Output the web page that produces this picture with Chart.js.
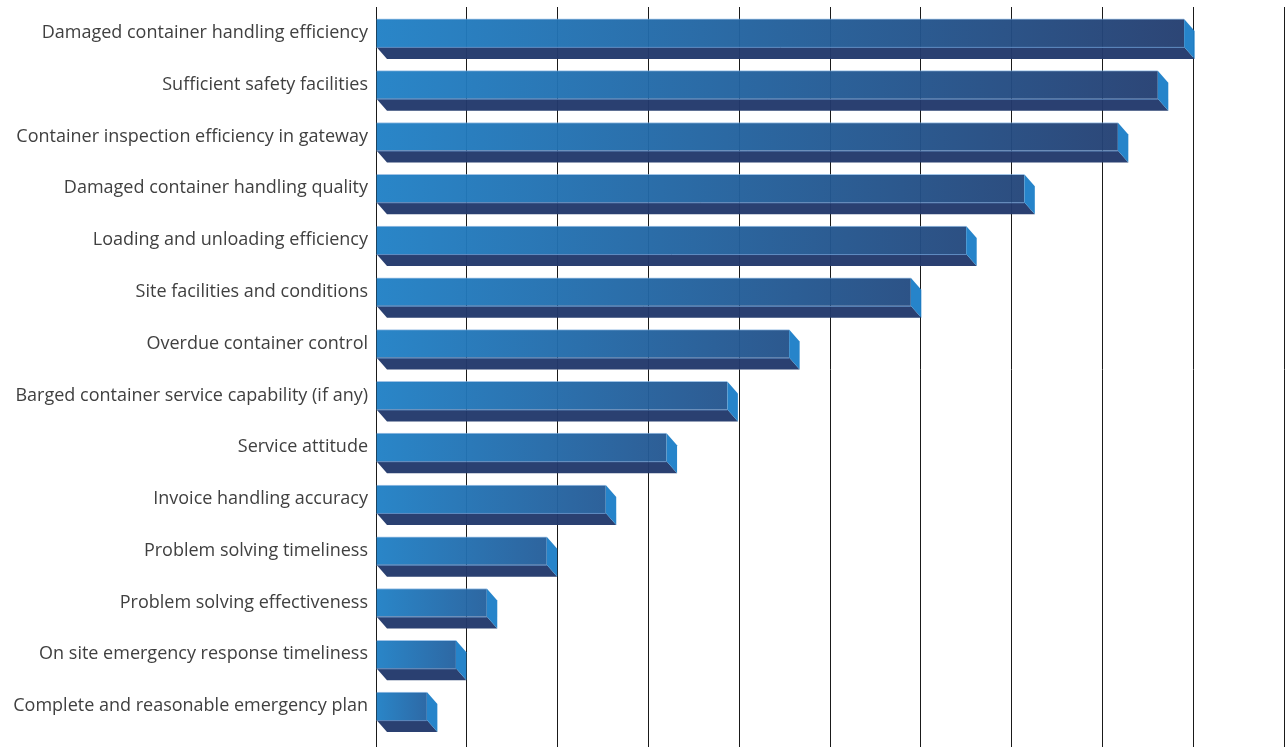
<!DOCTYPE html>
<html>
<head>
<meta charset="utf-8">
<title>Service evaluation</title>
<script src="https://cdn.jsdelivr.net/npm/chart.js@4.4.1/dist/chart.umd.min.js"></script>
<style>
    html, body { margin: 0; padding: 0; background: #ffffff; }
    #wrap { width: 1286px; height: 747px; }
</style>
</head>
<body>
<div id="wrap"><canvas id="chart" width="1286" height="747"></canvas></div>
<script>
// chart data
const categories = [
    "Damaged container handling efficiency",
    "Sufficient safety facilities",
    "Container inspection efficiency in gateway",
    "Damaged container handling quality",
    "Loading and unloading efficiency",
    "Site facilities and conditions",
    "Overdue container control",
    "Barged container service capability (if any)",
    "Service attitude",
    "Invoice handling accuracy",
    "Problem solving timeliness",
    "Problem solving effectiveness",
    "On site emergency response timeliness",
    "Complete and reasonable emergency plan"
];
const scores = [8.90, 8.61, 8.17, 7.14, 6.50, 5.89, 4.55, 3.87, 3.20, 2.53, 1.88, 1.22, 0.88, 0.56];
const axisMin = 0;
const axisMax = 10;
const axisStep = 1;

// 3d look
const DEPTH_X = 10.5;
const DEPTH_Y = 12;

function mix(a, b, t, alpha) {
    const pa = a.match(/\w\w/g).map((h) => parseInt(h, 16));
    const pb = b.match(/\w\w/g).map((h) => parseInt(h, 16));
    return "rgba(" + pa.map((v, i) => Math.round(v + (pb[i] - v) * t)).join(",") + "," + alpha + ")";
}

// front face: light on the left, darker the longer the bar
function frontFill(context) {
    if (context.type !== "data") return "#2277bb";
    const xScale = context.chart.scales.x;
    const x0 = xScale.getPixelForValue(0);
    const x1 = xScale.getPixelForValue(context.raw);
    if (!isFinite(x0) || !isFinite(x1) || x1 <= x0) return "#2277bb";
    const g = context.chart.ctx.createLinearGradient(x0, 0, x1, 0);
    g.addColorStop(0, "rgba(33,129,198,0.96)");
    g.addColorStop(1, mix("2566a5", "243e70", context.raw / Math.max(...scores), 0.96));
    return g;
}

const bar3d = {
    id: "bar3d",
    afterDatasetsDraw(chart) {
        const ctx = chart.ctx;
        const meta = chart.getDatasetMeta(0);
        ctx.save();
        meta.data.forEach((bar) => {
            const p = bar.getProps(["x", "y", "base", "height"], true);
            const top = p.y - p.height / 2;
            const bottom = p.y + p.height / 2;
            // bottom face
            ctx.fillStyle = "rgba(35,58,108,0.97)";
            ctx.beginPath();
            ctx.moveTo(p.base, bottom);
            ctx.lineTo(p.x, bottom);
            ctx.lineTo(p.x + DEPTH_X, bottom + DEPTH_Y);
            ctx.lineTo(p.base + DEPTH_X, bottom + DEPTH_Y);
            ctx.closePath();
            ctx.fill();
            // right side face
            ctx.fillStyle = "rgba(31,128,200,0.97)";
            ctx.beginPath();
            ctx.moveTo(p.x, top);
            ctx.lineTo(p.x + DEPTH_X, top + DEPTH_Y);
            ctx.lineTo(p.x + DEPTH_X, bottom + DEPTH_Y);
            ctx.lineTo(p.x, bottom);
            ctx.closePath();
            ctx.fill();
            // light edge along front face bottom
            ctx.strokeStyle = "rgba(110,160,215,0.8)";
            ctx.lineWidth = 1;
            ctx.beginPath();
            ctx.moveTo(p.base, bottom + 0.5);
            ctx.lineTo(p.x, bottom + 0.5);
            ctx.stroke();
        });
        ctx.restore();
    }
};

new Chart(document.getElementById("chart"), {
    type: "bar",
    data: {
        labels: categories,
        datasets: [{
            data: scores,
            backgroundColor: frontFill,
            borderColor: "rgba(120,170,220,0.7)",
            borderWidth: { top: 1, bottom: 0, left: 0, right: 0 },
            borderSkipped: false,
            barThickness: 28
        }]
    },
    plugins: [bar3d],
    options: {
        indexAxis: "y",
        responsive: false,
        animation: false,
        layout: { autoPadding: false, padding: { top: 7, right: 2, left: 0, bottom: 0 } },
        plugins: {
            legend: { display: false },
            tooltip: { enabled: false }
        },
        scales: {
            x: {
                min: axisMin,
                max: axisMax,
                ticks: { display: false, stepSize: axisStep },
                grid: { color: "#1a1a1a", lineWidth: 1, tickLength: 15, drawTicks: true },
                border: { display: false }
            },
            y: {
                grid: { display: false, drawTicks: false },
                border: { display: true, color: "#1a1a1a", width: 1 },
                ticks: {
                    color: "#404040",
                    padding: 8,
                    font: { family: "'Open Sans', 'Liberation Sans', sans-serif", size: 18 }
                },
                afterFit(scale) {
                    scale.width = 376;
                    scale.paddingTop = 0;
                    scale.paddingBottom = 0;
                }
            }
        }
    }
});
</script>
</body>
</html>
